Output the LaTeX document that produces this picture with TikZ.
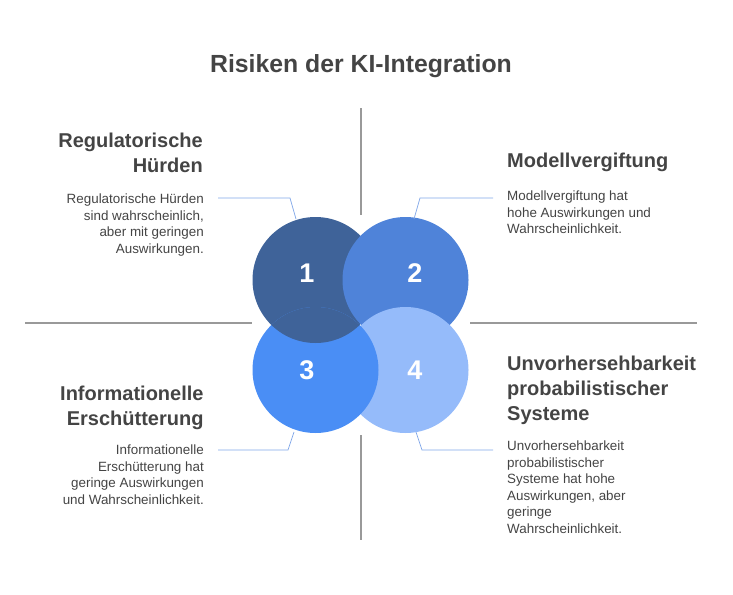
\documentclass[tikz,border=0pt]{standalone}
\usepackage{fontspec}
\setmainfont{Liberation Sans}
\usetikzlibrary{positioning}
\definecolor{cone}{HTML}{3F6399}
\definecolor{ctwo}{HTML}{4F83D9}
\definecolor{cthree}{HTML}{4A8EF5}
\definecolor{cfour}{HTML}{95BBFA}
\definecolor{txtgray}{HTML}{444444}
\definecolor{linkblue}{HTML}{7FA6E8}
\tikzset{
  crossline/.style={draw=gray!80, line width=1.2pt},
  link/.style={draw=linkblue, line width=0.7pt},
  num/.style={text=white, font=\bfseries\fontsize{27}{27}\selectfont},
  head/.style={text=txtgray, font=\bfseries\fontsize{20}{25}\selectfont, align=left, inner sep=0pt},
  body/.style={text=txtgray, font=\fontsize{13.4}{16.5}\selectfont, align=left, inner sep=0pt}
}
\begin{document}
\begin{tikzpicture}[x=1pt,y=-1pt]
  \useasboundingbox (0,0) rectangle (733,594);
  \node[text=txtgray, font=\bfseries\fontsize{24.8}{28}\selectfont] (title) at (361,66) {Risiken der KI-Integration};
  % cross
  \draw[crossline] (361,108) -- (361,215);
  \draw[crossline] (361,435) -- (361,540);
  \draw[crossline] (25,323) -- (252,323);
  \draw[crossline] (470,323) -- (697,323);
  % circles
  \fill[cone] (315.5,280) circle (63);
  \fill[ctwo] (405.5,280) circle (63);
  \fill[cfour] (405.5,370) circle (63);
  \fill[cthree] (315.5,370) circle (63);
  \begin{scope}
    \clip (315.5,370) circle (63);
    \fill[cone] (315.5,280) circle (63);
  \end{scope}
  \node[num] (n1) at (307,273) {1};
  \node[num] (n2) at (415,273) {2};
  \node[num] (n3) at (307,370) {3};
  \node[num] (n4) at (415,370) {4};
  % texts
  \node[head, anchor=north east, align=right] (h1) at (203,133) {Regulatorische\\Hürden};
  \node[body, anchor=north east, align=right] (b1) at (204,194) {Regulatorische Hürden\\sind wahrscheinlich,\\aber mit geringen\\Auswirkungen.};
  \node[head, anchor=north west] (h2) at (507,153) {Modellvergiftung};
  \node[body, anchor=north west] (b2) at (507,191) {Modellvergiftung hat\\hohe Auswirkungen und\\Wahrscheinlichkeit.};
  \node[head, anchor=north west, align=right] (h3) at (60,386) {Informationelle\\Erschütterung};
  \node[body, anchor=north east, align=right] (b3) at (204,445) {Informationelle\\Erschütterung hat\\geringe Auswirkungen\\und Wahrscheinlichkeit.};
  \node[head, anchor=north west] (h4) at (507,356) {Unvorhersehbarkeit\\probabilistischer\\Systeme};
  \node[body, anchor=north west] (b4) at (507,441) {Unvorhersehbarkeit\\probabilistischer\\Systeme hat hohe\\Auswirkungen, aber\\geringe\\Wahrscheinlichkeit.};
  % links
  \coordinate (e1) at (218,198);
  \coordinate (e2) at (493,198);
  \coordinate (e3) at (218,450);
  \coordinate (e4) at (493,450);
  \draw[link] (296,219) -- (290,198) -- (e1);
  \draw[link] (414,219) -- (420,198) -- (e2);
  \draw[link] (294,432) -- (288,450) -- (e3);
  \draw[link] (416,432) -- (422,450) -- (e4);
\end{tikzpicture}
\end{document}
